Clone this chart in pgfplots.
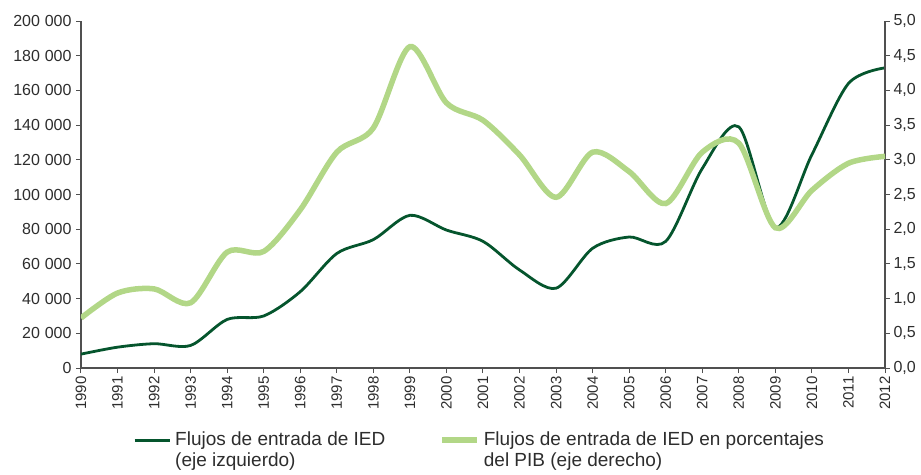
\documentclass[border=0pt]{standalone}
\usepackage{pgfplots}
\pgfplotsset{compat=1.18}
\usepackage{fontspec}
\setmainfont{Liberation Sans}

\definecolor{ieddark}{RGB}{5,85,45}
\definecolor{iedlight}{RGB}{178,215,135}
\definecolor{axisgray}{RGB}{80,80,80}
\definecolor{labelgray}{RGB}{45,45,45}

\newcommand{\ts}{\hspace{0.3em}}

\pgfplotsset{
  base/.style={
    width=804pt, height=347pt, scale only axis,
    xmin=1990, xmax=2012,
    axis line style={axisgray, line width=1.2pt},
    tick style={axisgray, line width=1pt},
    major tick length=5pt,
    tick align=outside,
    scaled ticks=false,
    tick label style={font=\fontsize{15}{17}\selectfont, text=labelgray},
    /pgf/number format/assume math mode=true,
  }
}

\begin{document}
\begin{tikzpicture}
\begin{axis}[
  base,
  axis x line*=bottom,
  axis y line*=left,
  ymin=0, ymax=200000,
  ytick={0,20000,40000,60000,80000,100000,120000,140000,160000,180000,200000},
  yticklabels={0, 20\ts000, 40\ts000, 60\ts000, 80\ts000, 100\ts000, 120\ts000, 140\ts000, 160\ts000, 180\ts000, 200\ts000},
  yticklabel style={font=\fontsize{16}{18}\selectfont, xshift=-1pt},
  xtick={1990,1991,...,2012},
  xticklabel style={rotate=90, anchor=east},
  xticklabel={\pgfmathprintnumber[1000 sep={},fixed]{\tick}},
]
\addplot[ieddark, line width=2.8pt, smooth] coordinates {
(1990,8000) (1991,12000) (1992,14000) (1993,13000) (1994,28000) (1995,30000)
(1996,44000) (1997,66000) (1998,74000) (1999,88000) (2000,79500) (2001,73000)
(2002,56500) (2003,46000) (2004,69000) (2005,75500) (2006,73000) (2007,115000)
(2008,139000) (2009,81000) (2010,123000) (2011,164000) (2012,173000)
};
\end{axis}
\begin{axis}[
  base,
  axis x line=none,
  axis y line*=right,
  ymin=0, ymax=5,
  ytick={0,0.5,...,5},
  yticklabels={{0,0},{0,5},{1,0},{1,5},{2,0},{2,5},{3,0},{3,5},{4,0},{4,5},{5,0}},
  yticklabel style={font=\fontsize{16}{18}\selectfont},
  legend style={at={(0.497,-0.172)}, anchor=north, draw=none, fill=none,
    font=\fontsize{19}{21}\selectfont, text=labelgray,
    legend columns=2,
    /tikz/every even column/.append style={column sep=50pt},
    nodes={align=left, inner xsep=4pt}},
  legend image code/.code={\draw[#1] (0pt,10pt) -- (35pt,10pt);},
  legend cell align=left,
]
\addlegendimage{ieddark, line width=3pt}
\addlegendentry{Flujos de entrada de IED\\(eje izquierdo)}
\addplot[iedlight, line width=5.5pt, smooth] coordinates {
(1990,0.72) (1991,1.08) (1992,1.14) (1993,0.94) (1994,1.67) (1995,1.68)
(1996,2.28) (1997,3.11) (1998,3.46) (1999,4.63) (2000,3.82) (2001,3.57)
(2002,3.07) (2003,2.46) (2004,3.11) (2005,2.83) (2006,2.37) (2007,3.11)
(2008,3.24) (2009,2.02) (2010,2.56) (2011,2.95) (2012,3.05)
};
\addlegendentry{Flujos de entrada de IED en porcentajes\\del PIB (eje derecho)}
\end{axis}
\pgfresetboundingbox
\path (-81pt,-106pt) rectangle (840pt,368pt);
\end{tikzpicture}
\end{document}
